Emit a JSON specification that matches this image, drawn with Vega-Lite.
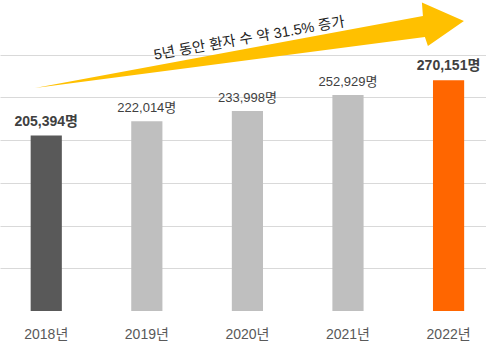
{
  "$schema": "https://vega.github.io/schema/vega-lite/v6.json",
  "width": 486,
  "height": 311,
  "autosize": {"type": "none"},
  "padding": {"top": 0, "left": 0, "right": 0, "bottom": 41},
  "background": "white",
  "config": {
    "view": {"stroke": null},
    "font": "Liberation Sans, Noto Sans CJK KR, sans-serif"
  },
  "data": {
    "values": [
      {"year": "2018년", "patients": 205394, "label": "205,394명"},
      {"year": "2019년", "patients": 222014, "label": "222,014명"},
      {"year": "2020년", "patients": 233998, "label": "233,998명"},
      {"year": "2021년", "patients": 252929, "label": "252,929명"},
      {"year": "2022년", "patients": 270151, "label": "270,151명"}
    ]
  },
  "encoding": {
    "x": {
      "field": "year",
      "type": "nominal",
      "sort": null,
      "scale": {"paddingInner": 0.69, "paddingOuter": 0.261, "align": 0.584},
      "axis": {
        "title": null,
        "labelAngle": 0,
        "ticks": false,
        "tickSize": 0,
        "domain": false,
        "grid": false,
        "labelPadding": 16,
        "labelFontSize": 14,
        "labelColor": "#595959",
        "labelFont": "Liberation Sans, Noto Sans CJK KR, sans-serif"
      }
    },
    "y": {
      "field": "patients",
      "type": "quantitative",
      "scale": {"domain": [0, 364000], "nice": false, "zero": true},
      "axis": {
        "title": null,
        "labels": false,
        "ticks": false,
        "domain": false,
        "values": [50000, 100000, 150000, 200000, 250000, 300000],
        "gridColor": "#d9d9d9",
        "gridWidth": 1
      }
    }
  },
  "layer": [
    {
      "mark": {"type": "bar"},
      "encoding": {
        "color": {
          "field": "year",
          "type": "nominal",
          "scale": {
            "domain": ["2018년", "2019년", "2020년", "2021년", "2022년"],
            "range": ["#595959", "#bfbfbf", "#bfbfbf", "#bfbfbf", "#ff6600"]
          },
          "legend": null
        }
      }
    },
    {
      "transform": [{"filter": {"field": "year", "oneOf": ["2019년", "2020년", "2021년"]}}],
      "mark": {"type": "text", "baseline": "alphabetic", "dy": -9, "fontSize": 13, "color": "#404040"},
      "encoding": {"text": {"field": "label"}}
    },
    {
      "transform": [{"filter": {"field": "year", "oneOf": ["2018년", "2022년"]}}],
      "mark": {"type": "text", "baseline": "alphabetic", "dy": -10, "fontSize": 14, "fontWeight": "bold", "color": "#404040"},
      "encoding": {"text": {"field": "label"}}
    },
    {
      "transform": [{"filter": {"field": "year", "equal": "2020년"}}],
      "mark": {
        "type": "point",
        "shape": "M-212.5,33.2 L175.5,-38.8 L174.5,-52.3 L216.5,-33.8 L180.5,-8.8 L177.5,-17.8 Z",
        "size": 4,
        "filled": true,
        "fill": "#ffc000",
        "fillOpacity": 1,
        "opacity": 1,
        "strokeWidth": 0
      },
      "encoding": {
        "y": {"datum": 300000}
      }
    },
    {
      "transform": [{"filter": {"field": "year", "equal": "2020년"}}],
      "mark": {
        "type": "text",
        "text": "5년 동안 환자 수 약 31.5% 증가",
        "angle": -10,
        "align": "center",
        "baseline": "middle",
        "dx": 2,
        "fontSize": 14.5,
        "fill": "#1f1f1f"
      },
      "encoding": {
        "y": {"datum": 318000}
      }
    }
  ]
}
